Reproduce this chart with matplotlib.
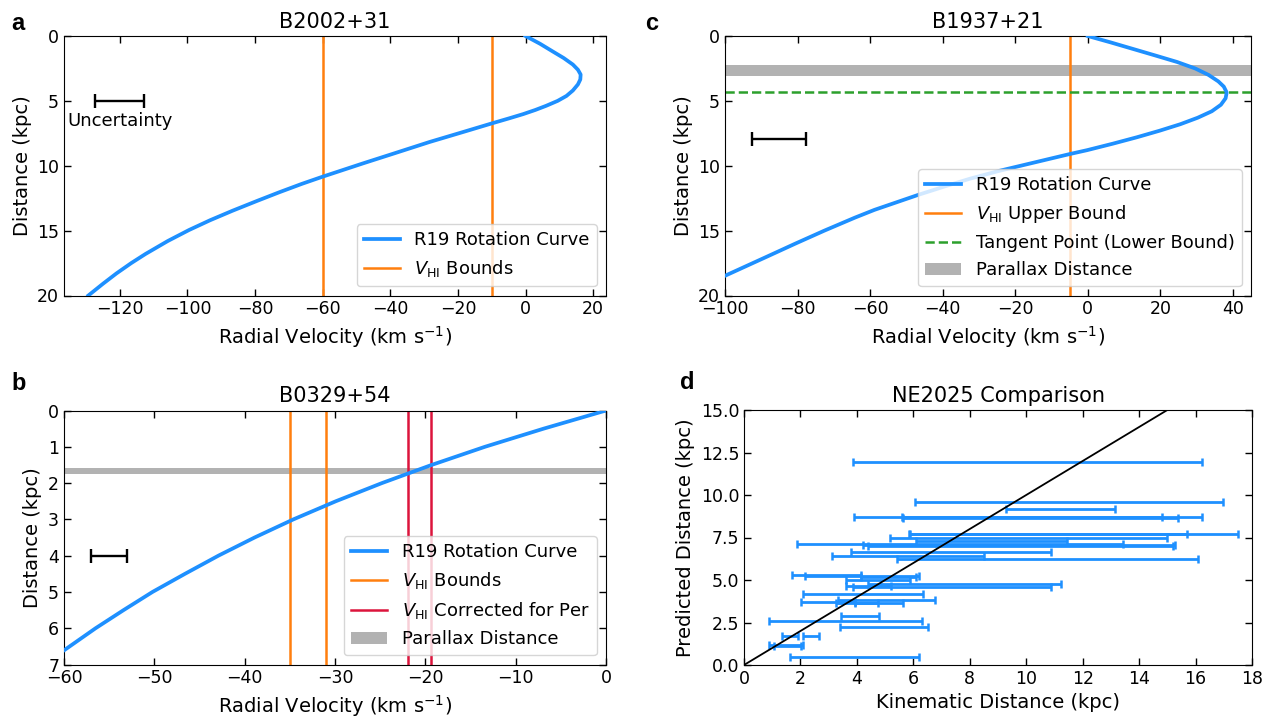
import numpy as np
import matplotlib
matplotlib.use('Agg')
import matplotlib.pyplot as plt

# ---- panel a: B2002+31 (distance kpc, radial velocity km/s)
a_dist = [0, 0.6, 1.2, 1.7, 2.2, 2.6, 2.97, 3.35, 3.73, 4.2, 4.62, 5.0, 5.38, 5.7,
          6.02, 6.35, 6.73, 7.41, 8.17, 9.06, 9.82, 10.85, 11.4, 12.05, 12.7, 13.46,
          14.2, 14.95, 15.8, 16.8, 17.5, 18.3, 19.1, 20.0]
a_vel = [0, 4.3, 8.1, 11.3, 14.0, 15.5, 16.3, 16.2, 15.5, 14.0, 12.1, 9.5, 6.1, 2.9,
         -0.7, -4.9, -9.9, -18.6, -28.4, -39.0, -48.1, -60.1, -66.2, -72.9, -79.3, -86.6,
         -93.3, -99.5, -105.8, -112.4, -116.6, -121.0, -125.0, -129.3]
a_vhi = [-60, -10]
a_unc = [-127.3, -112.8]   # uncertainty bar ends
a_unc_d = 5.0

# ---- panel b: B0329+54
b_dist = [0, 0.5, 1.0, 1.5, 2.0, 2.5, 3.0, 3.5, 4.0, 4.5, 5.0, 5.5, 6.0, 6.61]
b_vel = [0, -6.9, -13.4, -19.3, -24.8, -29.9, -34.6, -38.9, -42.9, -46.6, -50.2,
         -53.4, -56.5, -60]
b_vhi = [-35, -31]
b_vcorr = [-21.9, -19.4]
b_plx = [1.59, 1.76]
b_unc = [-57.05, -52.98]
b_unc_d = 4.0

# ---- panel c: B1937+21
c_dist = [0, 0.5, 1.0, 1.5, 2.0, 2.5, 3.0, 3.5, 3.9, 4.35, 4.8, 5.3, 5.8, 6.3, 6.8,
          7.3, 7.8, 8.3, 8.8, 9.1, 10.0, 10.4, 11.0, 11.6, 12.25, 13.4, 14.0, 15.0,
          16.0, 17.0, 18.48]
c_vel = [0, 6.4, 12.5, 18.6, 24.6, 29.6, 33.3, 36.0, 37.5, 38.3, 38.0, 36.7, 34.2,
         30.3, 25.5, 19.8, 13.6, 6.9, -0.2, -5.0, -18.5, -24.5, -32.5, -39.5, -46.8,
         -58.8, -64.2, -72.6, -80.6, -88.4, -100]
c_vhi_upper = -5
c_tangent = 4.35
c_plx = [2.22, 3.07]
c_unc = [-92.5, -77.8]
c_unc_d = 7.95

# ---- panel d: NE2025 comparison, kinematic distance ranges vs predicted distance
d_pred = [11.96, 9.61, 9.18, 8.72, 8.68, 8.65, 7.72, 7.68, 7.45, 7.28, 7.12, 7.06, 7.02,
          6.67, 6.43, 6.22, 5.27, 5.22, 5.20, 5.00, 4.78, 4.62, 4.57, 4.16, 3.82, 3.68,
          3.64, 3.66, 2.90, 2.61, 2.22, 1.73, 1.73, 1.16, 1.10, 0.45]
d_kin_lo = [3.87, 6.05, 9.28, 3.90, 5.60, 5.65, 5.84, 5.88, 5.18, 6.09, 1.87, 4.21, 4.40,
            3.78, 3.11, 5.43, 1.71, 2.17, 4.13, 3.60, 4.40, 3.63, 3.87, 2.09, 3.33, 2.02,
            3.27, 3.95, 3.42, 0.89, 3.40, 1.34, 2.08, 0.90, 1.07, 1.64]
d_kin_hi = [16.24, 16.97, 13.14, 16.24, 14.81, 15.37, 17.49, 15.71, 14.99, 11.45, 13.42, 15.26, 15.20,
            10.88, 8.51, 16.10, 4.13, 6.20, 6.10, 5.89, 11.24, 5.20, 10.88, 6.36, 6.76, 3.95,
            5.64, 4.76, 4.79, 6.32, 6.51, 1.91, 2.67, 2.08, 2.03, 6.19]

BLUE = 'dodgerblue'
ORANGE = '#ff7f0e'
VHI = r'$V_{\mathrm{HI}}$'

plt.rcParams['font.family'] = ['DejaVu Sans']
plt.rcParams['xtick.labelsize'] = 12.5
plt.rcParams['ytick.labelsize'] = 12.5
plt.rcParams['axes.labelsize'] = 14
plt.rcParams['axes.titlesize'] = 15
plt.rcParams['legend.fontsize'] = 13

W, H = 1271, 718
fig = plt.figure(figsize=(W / 100, H / 100), dpi=100)


def add_ax(l, t, r, b):
    return fig.add_axes([l / W, 1 - b / H, (r - l) / W, (b - t) / H])


def style(ax):
    ax.tick_params(direction='in', top=True, right=True, length=5, width=1)


def unc_bar(ax, lo, hi, d):
    mid = (lo + hi) / 2
    ax.errorbar([mid], [d], xerr=[[mid - lo], [hi - mid]], fmt='none', ecolor='k',
                elinewidth=1.7, capsize=5, capthick=1.7)


# panel a
ax = add_ax(64, 36, 606, 295.5)
ax.plot(a_vel, a_dist, color=BLUE, lw=2.7, label='R19 Rotation Curve', zorder=3)
for i, v in enumerate(a_vhi):
    ax.axvline(v, color=ORANGE, lw=1.8, label=VHI + ' Bounds' if i == 0 else None)
unc_bar(ax, a_unc[0], a_unc[1], a_unc_d)
ax.text(np.mean(a_unc), 6.55, 'Uncertainty', ha='center', va='center', fontsize=13)
ax.set_xlim(-136.5, 23.8)
ax.set_ylim(20, 0)
ax.set_xlabel(r'Radial Velocity (km s$^{-1}$)')
ax.set_ylabel('Distance (kpc)')
ax.set_title('B2002+31')
ax.legend(loc='lower right')
style(ax)

# panel c
ax = add_ax(725, 36, 1251, 295.5)
ax.plot(c_vel, c_dist, color=BLUE, lw=2.7, label='R19 Rotation Curve', zorder=3)
ax.axvline(c_vhi_upper, color=ORANGE, lw=1.8, label=VHI + ' Upper Bound')
ax.axhline(c_tangent, color='tab:green', lw=1.8, ls='--', label='Tangent Point (Lower Bound)')
ax.axhspan(c_plx[0], c_plx[1], color='gray', alpha=0.6, lw=0, label='Parallax Distance')
unc_bar(ax, c_unc[0], c_unc[1], c_unc_d)
ax.set_xlim(-100, 45)
ax.set_ylim(20, 0)
ax.set_xlabel(r'Radial Velocity (km s$^{-1}$)')
ax.set_ylabel('Distance (kpc)')
ax.set_title('B1937+21')
ax.legend(loc='lower right')
style(ax)

# panel b
ax = add_ax(64, 410.5, 606, 664.5)
ax.plot(b_vel, b_dist, color=BLUE, lw=2.7, label='R19 Rotation Curve', zorder=3)
for i, v in enumerate(b_vhi):
    ax.axvline(v, color=ORANGE, lw=1.8, label=VHI + ' Bounds' if i == 0 else None)
for i, v in enumerate(b_vcorr):
    ax.axvline(v, color='crimson', lw=1.8, label=VHI + ' Corrected for Per' if i == 0 else None)
ax.axhspan(b_plx[0], b_plx[1], color='gray', alpha=0.6, lw=0, label='Parallax Distance')
unc_bar(ax, b_unc[0], b_unc[1], b_unc_d)
ax.set_xlim(-60, 0)
ax.set_ylim(7, 0)
ax.set_xlabel(r'Radial Velocity (km s$^{-1}$)')
ax.set_ylabel('Distance (kpc)')
ax.set_title('B0329+54')
ax.legend(loc='lower right')
style(ax)

# panel d
ax = add_ax(744, 410, 1252, 665)
lo = np.array(d_kin_lo)
hi = np.array(d_kin_hi)
mid = (lo + hi) / 2
ax.errorbar(mid, d_pred, xerr=[mid - lo, hi - mid], fmt='none', ecolor=BLUE,
            elinewidth=2.0, capsize=2.6, capthick=1.8)
ax.plot([0, 18], [0, 18], color='k', lw=1.3, zorder=4)
ax.set_xlim(0, 18)
ax.set_ylim(0, 15)
ax.set_xticks(np.arange(0, 19, 2))
ax.set_xlabel('Kinematic Distance (kpc)')
ax.set_ylabel('Predicted Distance (kpc)')
ax.set_title('NE2025 Comparison')
style(ax)

# panel letters
for s, x, y in [('a', 11, 30), ('c', 645, 30), ('b', 11, 390), ('d', 680, 389)]:
    fig.text(x / W, 1 - y / H, s, fontsize=17, fontweight='bold',
             family=['Liberation Sans', 'DejaVu Sans'], va='baseline')

fig.savefig('out.png', dpi=100)
